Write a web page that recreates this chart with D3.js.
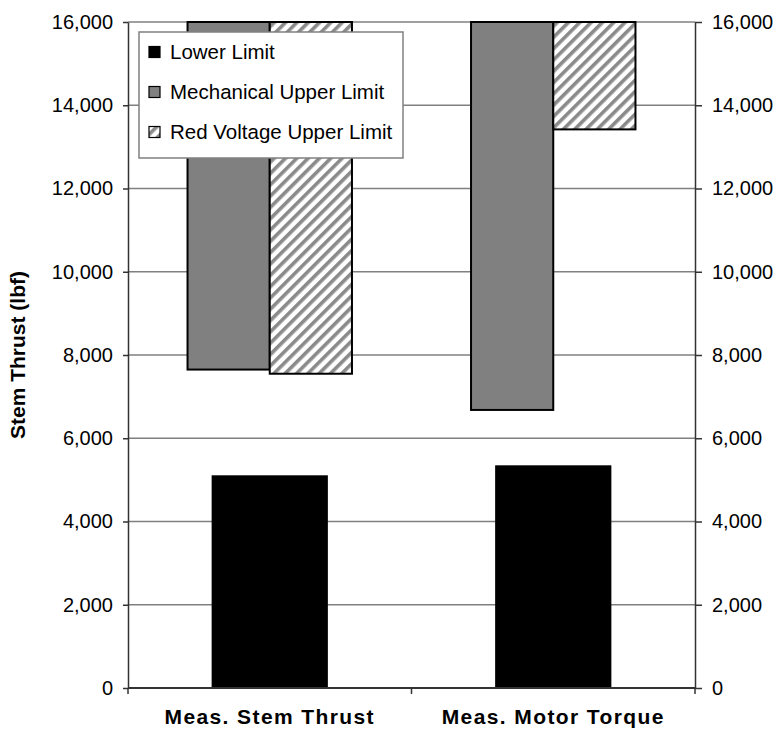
<!DOCTYPE html>
<html>
<head>
<meta charset="utf-8">
<script src="https://cdn.jsdelivr.net/npm/d3@7"></script>
<style>
  html, body { margin: 0; padding: 0; background: #fff; }
  svg { display: block; font-family: "Liberation Sans", Arial, sans-serif; }
</style>
</head>
<body>
<svg id="chart" width="777" height="731"></svg>
<script>
// Categories and series values (lbf)
const categories = ["Meas. Stem Thrust", "Meas. Motor Torque"];
const lowerLimit = [5110, 5350];
const mechUpperFrom = [7650, 6680];
const mechUpperTo = [16000, 16000];
const redVoltFrom = [7550, 13420];
const redVoltTo = [16000, 16000];
const yTickValues = [0, 2000, 4000, 6000, 8000, 10000, 12000, 14000, 16000];
const legendLabels = ["Lower Limit", "Mechanical Upper Limit", "Red Voltage Upper Limit"];
const yTitle = "Stem Thrust (lbf)";

const FONT = "'Liberation Sans', Arial, sans-serif";
const svg = d3.select("#chart");
const plot = { left: 128, right: 695, top: 22, bottom: 688 };

const x = d3.scaleBand().domain(categories).range([plot.left, plot.right]).padding(0);
const y = d3.scaleLinear().domain([0, 16000]).range([plot.bottom, plot.top]);

// hatch pattern for the red-voltage series
const defs = svg.append("defs");
const pat = defs.append("pattern")
  .attr("id", "hatch")
  .attr("patternUnits", "userSpaceOnUse")
  .attr("width", 8).attr("height", 8)
  .attr("patternTransform", "rotate(45)");
pat.append("rect").attr("width", 8).attr("height", 8).attr("fill", "#fff");
pat.append("rect").attr("x", 0).attr("y", 0).attr("width", 3.6).attr("height", 8).attr("fill", "#8a8a8a");

// horizontal gridlines
svg.append("g").selectAll("line")
  .data(yTickValues.filter(d => d > 0))
  .join("line")
  .attr("x1", plot.left).attr("x2", plot.right)
  .attr("y1", d => y(d)).attr("y2", d => y(d))
  .attr("stroke", "#808080").attr("stroke-width", 1.5);

// lower limit bars (centred in each category)
const lowerW = x.bandwidth() * 0.41;
svg.append("g").selectAll("rect")
  .data(categories)
  .join("rect")
  .attr("x", (d) => x(d) + x.bandwidth() / 2 - lowerW / 2)
  .attr("width", lowerW)
  .attr("y", (d, i) => y(lowerLimit[i]))
  .attr("height", (d, i) => y(0) - y(lowerLimit[i]))
  .attr("fill", "#000");

// upper-limit ranges: mechanical and red voltage side by side
const pairW = x.bandwidth() * 0.58;
const inner = d3.scaleBand().domain(["mech", "rv"]).range([0, pairW]).padding(0);
const upper = [];
categories.forEach((c, i) => {
  upper.push({ cat: c, key: "mech", from: mechUpperFrom[i], to: mechUpperTo[i] });
  upper.push({ cat: c, key: "rv", from: redVoltFrom[i], to: redVoltTo[i] });
});
svg.append("g").selectAll("rect")
  .data(upper)
  .join("rect")
  .attr("x", d => x(d.cat) + x.bandwidth() / 2 - pairW / 2 + inner(d.key))
  .attr("width", inner.bandwidth())
  .attr("y", d => y(d.to))
  .attr("height", d => y(d.from) - y(d.to))
  .attr("fill", d => d.key === "mech" ? "#808080" : "url(#hatch)")
  .attr("stroke", "#000").attr("stroke-width", 2);

// axes
const fmt = d3.format(",");
const leftAxis = svg.append("g")
  .attr("transform", `translate(${plot.left},0)`)
  .call(d3.axisLeft(y).tickValues(yTickValues).tickFormat(fmt).tickSize(5).tickSizeOuter(0).tickPadding(10));
const rightAxis = svg.append("g")
  .attr("transform", `translate(${plot.right},0)`)
  .call(d3.axisRight(y).tickValues(yTickValues).tickFormat(fmt).tickSize(7).tickSizeOuter(0).tickPadding(10));
[leftAxis, rightAxis].forEach(g => {
  g.select(".domain").attr("stroke", "#333").attr("stroke-width", 1.5);
  g.selectAll(".tick line").attr("stroke", "#333").attr("stroke-width", 1.5);
  g.selectAll(".tick text").attr("font-size", 20).attr("fill", "#000")
    .attr("font-family", FONT);
});

// category axis along zero
const bottom = svg.append("g").attr("transform", `translate(0,${plot.bottom})`);
bottom.append("line")
  .attr("x1", plot.left).attr("x2", plot.right)
  .attr("stroke", "#333").attr("stroke-width", 2);
const bounds = [plot.left, ...categories.map(c => x(c) + x.bandwidth())];
bottom.selectAll("line.tk").data(bounds).join("line").attr("class", "tk")
  .attr("x1", d => d).attr("x2", d => d).attr("y1", 0).attr("y2", 6)
  .attr("stroke", "#333").attr("stroke-width", 1.5);
bottom.selectAll("text").data(categories).join("text")
  .attr("x", d => x(d) + x.bandwidth() / 2)
  .attr("y", 36)
  .attr("text-anchor", "middle")
  .attr("font-weight", "bold").attr("font-size", 21)
  .attr("letter-spacing", 1.4)
  .text(d => d);

// y axis title
svg.append("text")
  .attr("transform", `translate(25,${(plot.top + plot.bottom) / 2}) rotate(-90)`)
  .attr("text-anchor", "middle")
  .attr("font-weight", "bold").attr("font-size", 21)
  .text(yTitle);

// legend
const lg = svg.append("g").attr("transform", "translate(139,32)");
lg.append("rect").attr("width", 264).attr("height", 126)
  .attr("fill", "#fff").attr("stroke", "#808080").attr("stroke-width", 1.5);
const fills = ["#000", "#808080", "url(#hatch)"];
const rows = lg.selectAll("g.row").data(legendLabels).join("g").attr("class", "row")
  .attr("transform", (d, i) => `translate(10,${20 + i * 40})`);
rows.append("rect").attr("x", 0).attr("y", -5.5).attr("width", 11).attr("height", 11)
  .attr("fill", (d, i) => fills[i]).attr("stroke", "#000").attr("stroke-width", 1.2);
rows.append("text").attr("x", 21).attr("y", 0).attr("dy", "0.35em")
  .attr("font-size", 20.5).text(d => d);
</script>
</body>
</html>
